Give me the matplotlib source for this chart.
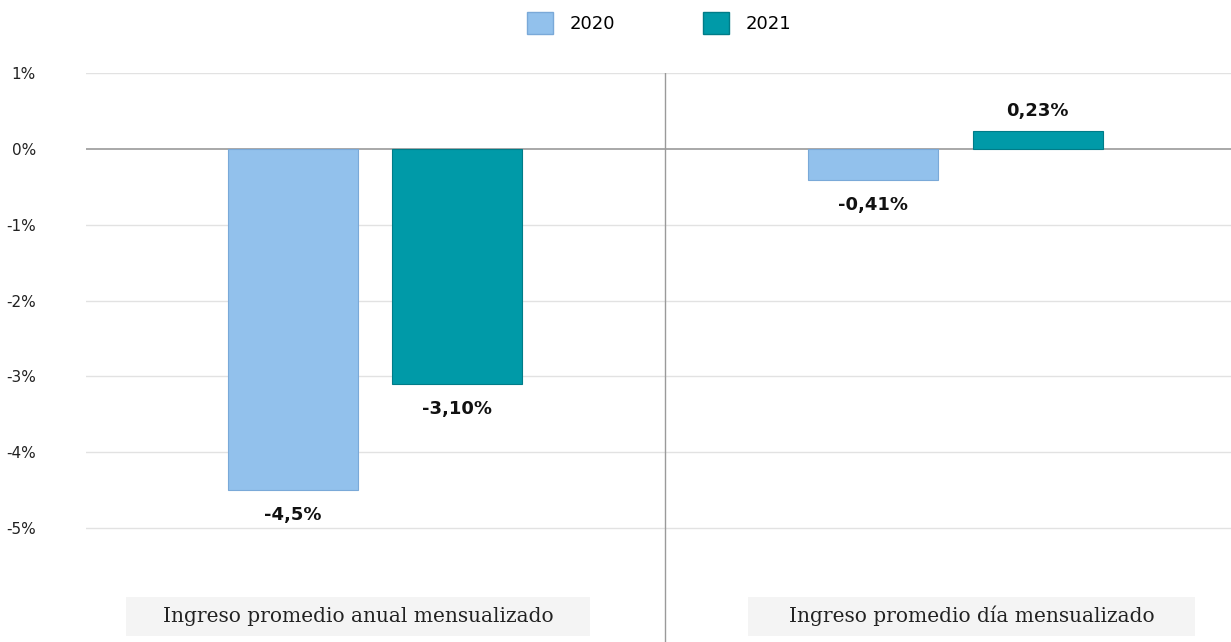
import matplotlib.pyplot as plt
import numpy as np
from matplotlib.patches import Patch, Rectangle

# data (percent)
categories = ["Ingreso promedio anual mensualizado", "Ingreso promedio día mensualizado"]
years = ["2020", "2021"]
vals_2020 = [-4.5, -0.41]
vals_2021 = [-3.10, 0.23]
labels_2020 = ["-4,5%", "-0,41%"]
labels_2021 = ["-3,10%", "0,23%"]
y_ticks = [1, 0, -1, -2, -3, -4, -5]

c2020, e2020 = '#92c1ec', '#7aa9d8'
c2021, e2021 = '#009aa8', '#007c88'

fig = plt.figure(figsize=(12.31, 6.42), dpi=100)
ax = fig.add_axes([86 / 1231, 0.0, 1 - 86 / 1231, 1 - 73 / 642])

x = np.arange(len(categories))
w = 0.224
off = 0.142

b1 = ax.bar(x - off, vals_2020, w, color=c2020, edgecolor=e2020, linewidth=0.8, zorder=3)
b2 = ax.bar(x + off, vals_2021, w, color=c2021, edgecolor=e2021, linewidth=0.8, zorder=3)

# value labels
for bars, labs in [(b1, labels_2020), (b2, labels_2021)]:
    for rect, lab in zip(bars, labs):
        v = rect.get_height()
        xc = rect.get_x() + rect.get_width() / 2
        dy = -18 if v < 0 else 15
        ax.annotate(lab, (xc, v), xytext=(0, dy), textcoords='offset points',
                    ha='center', va='center', fontsize=13, fontweight='bold',
                    family='DejaVu Sans', color='#111111')

ax.set_xlim(-0.498, 1.475)
ax.set_ylim(-6.5, 1)

# grid
for t in y_ticks:
    ax.axhline(t, color='#999999' if t == 0 else '#e2e2e2',
               linewidth=1.2 if t == 0 else 1.0, zorder=1)
ax.axvline(0.5, color='#9a9a9a', linewidth=1.0, zorder=1)

ax.set_yticks(y_ticks)
ax.set_yticklabels([f"{t}%" for t in y_ticks], fontsize=11, color='#222222')
ax.tick_params(axis='y', length=0, pad=36)
ax.set_xticks([])
for s in ax.spines.values():
    s.set_visible(False)

# category label boxes
boxes = [(126, 590), (748, 1195)]
for (x0, x1), cat in zip(boxes, categories):
    fig.patches.append(Rectangle((x0 / 1231, 1 - 636 / 642), (x1 - x0) / 1231, 39 / 642,
                                 transform=fig.transFigure, facecolor='#f4f4f4',
                                 edgecolor='none', zorder=0))
    fig.text((x0 + x1) / 2 / 1231, 1 - 616 / 642, cat, ha='center', va='center',
             fontsize=14.5, family='DejaVu Serif', color='#222222')

# legend
handles = [Patch(facecolor=c2020, edgecolor=e2020), Patch(facecolor=c2021, edgecolor=e2021)]
fig.legend(handles, years, loc='center', bbox_to_anchor=(659 / 1231, 1 - 23 / 642),
           ncol=2, frameon=False, fontsize=13, handlelength=1.45, handleheight=1.45,
           handletextpad=0.9, columnspacing=4.9)

fig.savefig("out.png", dpi=100)
